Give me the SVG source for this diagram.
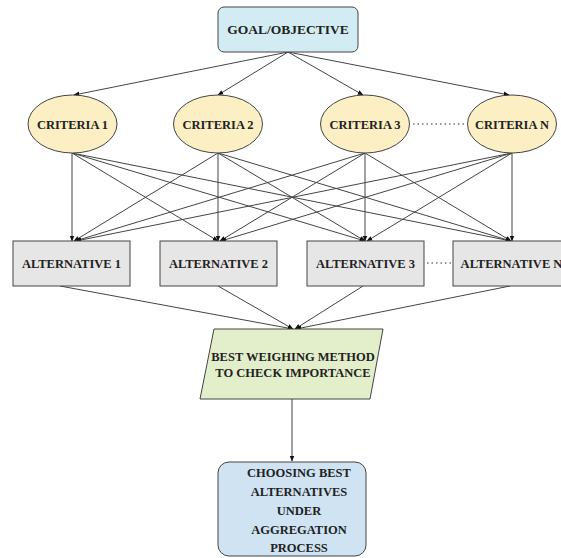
<svg xmlns="http://www.w3.org/2000/svg" width="561" height="558" viewBox="0 0 561 558">
  <style>
    .lbl { font-weight: bold; font-size: 12.5px; fill: #222; text-anchor: middle; }
    .edge { stroke: #444; stroke-width: 1; fill: none; }
    .dots { stroke: #333; stroke-width: 1.2; stroke-dasharray: 1.5 3; fill: none; }
    .node { stroke: #444; stroke-width: 1; }
  </style>
  <defs>
    <marker id="arrow" viewBox="0 0 10 10" refX="9" refY="5" markerWidth="6" markerHeight="6" orient="auto-start-reverse" markerUnits="userSpaceOnUse">
      <path d="M0,1 L10,5 L0,9 Z" fill="#111"/>
    </marker>
  </defs>
  <rect width="561" height="558" fill="#ffffff"/>

  <!-- connectors -->
  <g id="connectors">
    <!-- goal to criteria -->
    <line class="edge" x1="288" y1="52" x2="74" y2="95" marker-end="url(#arrow)"/>
    <line class="edge" x1="288" y1="52" x2="218" y2="95" marker-end="url(#arrow)"/>
    <line class="edge" x1="288" y1="52" x2="363" y2="95" marker-end="url(#arrow)"/>
    <line class="edge" x1="288" y1="52" x2="509" y2="95" marker-end="url(#arrow)"/>

    <!-- criteria 1 to alternatives -->
    <line class="edge" x1="72" y1="153" x2="72" y2="241" marker-end="url(#arrow)"/>
    <line class="edge" x1="72" y1="153" x2="218" y2="241" marker-end="url(#arrow)"/>
    <line class="edge" x1="72" y1="153" x2="365" y2="241" marker-end="url(#arrow)"/>
    <line class="edge" x1="72" y1="153" x2="511" y2="241" marker-end="url(#arrow)"/>
    <!-- criteria 2 to alternatives -->
    <line class="edge" x1="218" y1="153" x2="74" y2="241" marker-end="url(#arrow)"/>
    <line class="edge" x1="218" y1="153" x2="218" y2="241" marker-end="url(#arrow)"/>
    <line class="edge" x1="218" y1="153" x2="365" y2="241" marker-end="url(#arrow)"/>
    <line class="edge" x1="218" y1="153" x2="511" y2="241" marker-end="url(#arrow)"/>
    <!-- criteria 3 to alternatives -->
    <line class="edge" x1="365" y1="153" x2="75" y2="241" marker-end="url(#arrow)"/>
    <line class="edge" x1="365" y1="153" x2="220" y2="241" marker-end="url(#arrow)"/>
    <line class="edge" x1="365" y1="153" x2="365" y2="241" marker-end="url(#arrow)"/>
    <line class="edge" x1="365" y1="153" x2="511" y2="241" marker-end="url(#arrow)"/>
    <!-- criteria N to alternatives -->
    <line class="edge" x1="512" y1="153" x2="76" y2="241" marker-end="url(#arrow)"/>
    <line class="edge" x1="512" y1="153" x2="221" y2="241" marker-end="url(#arrow)"/>
    <line class="edge" x1="512" y1="153" x2="367" y2="241" marker-end="url(#arrow)"/>
    <line class="edge" x1="512" y1="153" x2="512" y2="241" marker-end="url(#arrow)"/>

    <!-- alternatives to weighing method -->
    <line class="edge" x1="60" y1="286" x2="293" y2="329" marker-end="url(#arrow)"/>
    <line class="edge" x1="218" y1="286" x2="293" y2="329" marker-end="url(#arrow)"/>
    <line class="edge" x1="363" y1="286" x2="295" y2="329" marker-end="url(#arrow)"/>
    <line class="edge" x1="510" y1="286" x2="296" y2="329" marker-end="url(#arrow)"/>

    <!-- weighing method to final choice -->
    <line class="edge" x1="292" y1="399" x2="292" y2="461" marker-end="url(#arrow)"/>

    <!-- continuation dots -->
    <line class="dots" x1="413" y1="124" x2="467" y2="124"/>
    <line class="dots" x1="427" y1="263" x2="452" y2="263"/>
  </g>

  <g style="font-family: 'Liberation Serif', 'Times New Roman', serif">
  <g id="goal">
    <rect class="node" x="218" y="7" width="140" height="45" rx="6" fill="#d3ecf3"/>
    <text class="lbl" x="288" y="34" style="font-size:13.5px">GOAL/OBJECTIVE</text>
  </g>

  <g id="criteria-1">
    <ellipse class="node" cx="72.5" cy="124" rx="44.5" ry="29" fill="#fcefc4"/>
    <text class="lbl" x="72.5" y="128.5">CRITERIA 1</text>
  </g>
  <g id="criteria-2">
    <ellipse class="node" cx="218" cy="124" rx="44.5" ry="29" fill="#fcefc4"/>
    <text class="lbl" x="218" y="128.5">CRITERIA 2</text>
  </g>
  <g id="criteria-3">
    <ellipse class="node" cx="365" cy="124" rx="44.5" ry="29" fill="#fcefc4"/>
    <text class="lbl" x="365" y="128.5">CRITERIA 3</text>
  </g>
  <g id="criteria-n">
    <ellipse class="node" cx="512" cy="124" rx="44.5" ry="29" fill="#fcefc4"/>
    <text class="lbl" x="512" y="128.5">CRITERIA N</text>
  </g>

  <g id="alternative-1">
    <rect class="node" x="13" y="241" width="117" height="45" fill="#e6e6e6"/>
    <text class="lbl" x="71.5" y="268">ALTERNATIVE 1</text>
  </g>
  <g id="alternative-2">
    <rect class="node" x="160" y="241" width="117" height="45" fill="#e6e6e6"/>
    <text class="lbl" x="218.5" y="268">ALTERNATIVE 2</text>
  </g>
  <g id="alternative-3">
    <rect class="node" x="307" y="241" width="117" height="45" fill="#e6e6e6"/>
    <text class="lbl" x="365.5" y="268">ALTERNATIVE 3</text>
  </g>
  <g id="alternative-n">
    <rect class="node" x="453" y="241" width="117" height="45" fill="#e6e6e6"/>
    <text class="lbl" x="511.5" y="268">ALTERNATIVE N</text>
  </g>

  <g id="weighing-method">
    <polygon class="node" points="214,329 383,329 370,399 200,399" fill="#e3eecb"/>
    <text class="lbl" x="293" y="361">BEST WEIGHING METHOD</text>
    <text class="lbl" x="293" y="377">TO CHECK IMPORTANCE</text>
  </g>

  <g id="final-choice">
    <rect class="node" x="218" y="462" width="148" height="94" rx="11" fill="#cfe3f3"/>
    <text class="lbl" x="299" y="477">CHOOSING BEST</text>
    <text class="lbl" x="299" y="496">ALTERNATIVES</text>
    <text class="lbl" x="299" y="515">UNDER</text>
    <text class="lbl" x="299" y="534">AGGREGATION</text>
    <text class="lbl" x="299" y="552">PROCESS</text>
  </g>
  </g>
</svg>
